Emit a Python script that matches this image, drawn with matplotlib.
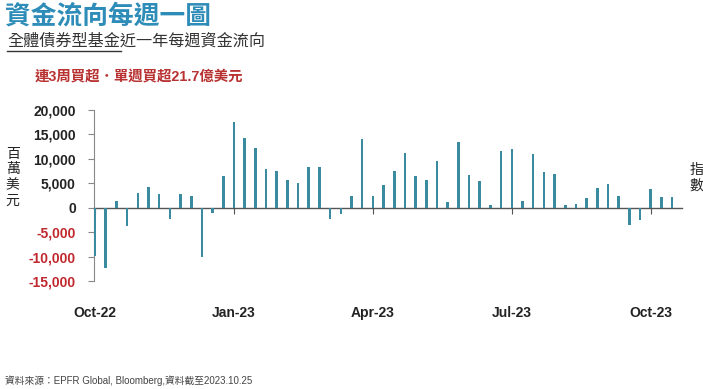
import matplotlib
matplotlib.use("Agg")
import numpy as np
import matplotlib.pyplot as plt
from matplotlib.lines import Line2D

plt.rcParams['font.family'] = ['Liberation Sans', 'Noto Sans CJK TC', 'DejaVu Sans']

# weekly net flows of all bond funds (USD mn), oldest first
flows = [-9800, -12300, 1400, -3800, 3000, 4200, 2800, -2400, 2800, 2400,
         -10000, -1100, 6500, 17500, 14300, 12200, 7900, 7500, 5600, 5000,
         8400, 8300, -2300, -1200, 2400, 14000, 2400, 4700, 7500, 11100,
         6400, 5700, 9600, 1200, 13500, 6600, 5500, 600, 11700, 12100,
         1400, 11000, 7300, 6900, 500, 700, 1900, 4100, 4900, 2500,
         -3500, -2500, 3800, 2200, 2170]
tick_pos = [0, 13, 26, 39, 52]
tick_labels = ['Oct-22', 'Jan-23', 'Apr-23', 'Jul-23', 'Oct-23']
y_ticks = [-15000, -10000, -5000, 0, 5000, 10000, 15000, 20000]

bar_color = '#3b8ba0'
red = '#c0282d'

fig = plt.figure(figsize=(7.03, 3.89), dpi=100)
ax = fig.add_axes([0.1337, 0.2776, 0.836, 0.4396])

x = np.arange(len(flows))
ax.bar(x, flows, width=0.24, color=bar_color, zorder=3)

ax.set_xlim(-0.1, 54.9)
ax.set_ylim(-15000, 20000)

# spines
for s in ['top', 'right']:
    ax.spines[s].set_visible(False)
ax.spines['left'].set_color('#888888')
ax.spines['left'].set_linewidth(0.8)
ax.spines['bottom'].set_position(('data', 0))
ax.spines['bottom'].set_color('#555555')
ax.spines['bottom'].set_linewidth(1.0)

ax.set_xticks(tick_pos)
ax.set_xticklabels(tick_labels, fontsize=10, fontweight='bold', color='#222222')
ax.tick_params(axis='x', length=4, width=0.8, color='#555555', pad=67)

ax.set_yticks(y_ticks)
ax.set_yticklabels([f"{v:,}" for v in y_ticks], fontsize=10, fontweight='bold')
ax.tick_params(axis='y', length=4, width=0.8, color='#888888', pad=9)
for lab, v in zip(ax.get_yticklabels(), y_ticks):
    lab.set_color(red if v < 0 else '#222222')

# titles
fig.text(0.007, 1 - 16 / 389, '資金流向每週一圖', fontsize=18.5, fontweight='bold',
         color='#2e8cb8', va='center', ha='left')
fig.text(0.011, 1 - 41 / 389, '全體債券型基金近一年每週資金流向', fontsize=11.6,
         color='#333333', va='center', ha='left')
fig.add_artist(Line2D([0.010, 0.172], [1 - 51 / 389, 1 - 51 / 389],
                      transform=fig.transFigure, color='#333333', linewidth=1.0))
fig.text(0.050, 1 - 76 / 389, '連3周買超．單週買超21.7億美元', fontsize=10.4,
         fontweight='bold', color='#b83232', va='center', ha='left')

# axis unit labels
fig.text(0.018, 1 - 177 / 389, '百\n萬\n美\n元', fontsize=10, color='#222222',
         va='center', ha='center', linespacing=1.15)
fig.text(0.991, 1 - 178 / 389, '指\n數', fontsize=10, color='#222222',
         va='center', ha='center', linespacing=1.15)

fig.text(0.007, 1 - 381 / 389, '資料來源：EPFR Global, Bloomberg,資料截至2023.10.25',
         fontsize=7, color='#444444', va='center', ha='left')

fig.savefig('out.png', dpi=100)
